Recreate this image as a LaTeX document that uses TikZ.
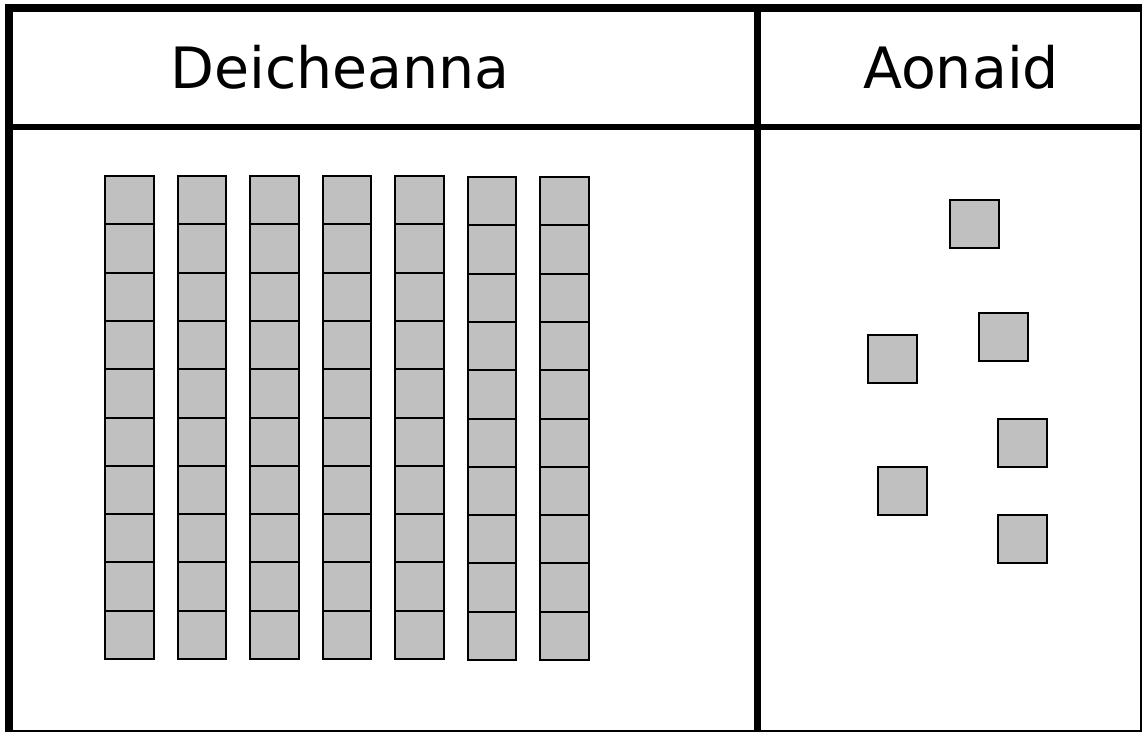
\documentclass[tikz,border=0pt]{standalone}
\usepackage{fontspec}
\setmainfont{DejaVu Sans}
\tikzset{
  frameline/.style={line width=8pt, line cap=rect},
  divline/.style={line width=6.5pt},
  cube/.style={draw=black, fill=cubegray, line width=2pt, minimum width=48.5pt, minimum height=48.4pt, inner sep=0pt, outer sep=0pt},
  title/.style={font=\fontsize{57}{60}\selectfont, anchor=base, inner sep=0pt}
}
\definecolor{cubegray}{HTML}{C0C0C0}
\begin{document}
\begin{tikzpicture}[x=1pt,y=-1pt]
\useasboundingbox (0,0) rectangle (1142,731);
% frame
\draw[frameline] (8.5,8) rectangle (1144,734);
\draw[divline] (8.5,127) -- (1144,127);
\draw[line width=7pt] (757,8) -- (757,734);
% titles
\node[title] (tens) at (340,88) {Deicheanna};
\node[title] (units) at (961,88) {Aonaid};
% tens rods
\foreach \c/\x/\t in {1/105/176,2/177.5/176,3/250/176,4/322.5/176,5/395/176,6/467.5/177,7/540/177}{
  \foreach \r in {0,...,9}{
    \node[cube, anchor=north west] (t\c-\r) at (\x,\t+48.3*\r) {};
  }
}
% units
\node[cube, anchor=north west] (u1) at (950,200) {};
\node[cube, anchor=north west] (u2) at (979,313) {};
\node[cube, anchor=north west] (u3) at (868,334.5) {};
\node[cube, anchor=north west] (u4) at (998,419) {};
\node[cube, anchor=north west] (u5) at (878,467) {};
\node[cube, anchor=north west] (u6) at (998,515) {};
\end{tikzpicture}
\end{document}
